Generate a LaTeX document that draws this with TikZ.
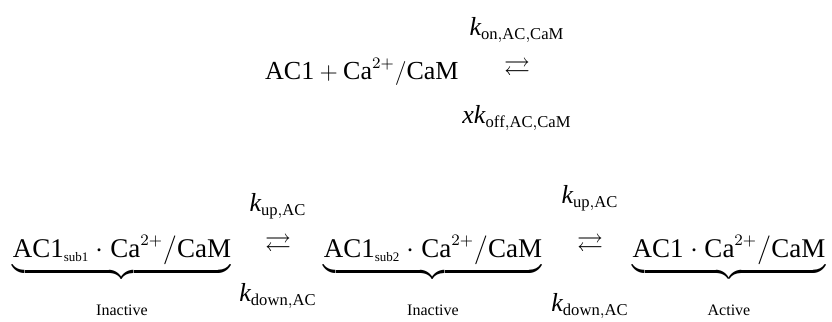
\documentclass[tikz,border=0pt]{standalone}
\usepackage{amsmath,amssymb}
\usepackage{fontspec}
\setmainfont{Liberation Serif}
\DeclareMathSizes{13}{13}{8.3}{6.3}
\DeclareMathSizes{13.5}{13.5}{8.5}{6.5}
\usetikzlibrary{positioning}

\begin{document}
\begin{tikzpicture}[
    x=0.5pt, y=-0.5pt, % pixel-like units
    species/.style={inner sep=0pt, font=\fontsize{13}{16}\selectfont}, % Style for the reactants
    complex/.style={inner sep=0pt, font=\fontsize{13.5}{16}\selectfont}, % Style for the bound forms
    rate/.style={inner sep=0pt, font=\fontsize{13}{16}\selectfont}, % Style for the rate constants
    state/.style={inner sep=0pt, font=\fontsize{8}{10}\selectfont} % Style for the state labels
]
    \useasboundingbox (0,0) rectangle (832,322);

    % Binding step
    \node[species, anchor=east] (free) at (459,72) {$\mathrm{AC1} + \mathrm{Ca}^{2+}/\mathrm{CaM}$};
    \node[species] (bind) at (517,69) {$\rightleftarrows$};
    \node[rate] (kon) at (517,30) {$\mathit{k}_{\mathrm{on,AC,CaM}}$};
    \node[rate] (koff) at (517,118) {$\mathit{xk}_{\mathrm{off,AC,CaM}}$};

    % Activation steps
    \node[complex, anchor=base] (sub1) at (122,257) {$\underbrace{\mathrm{AC1}_{\scriptscriptstyle\mathrm{sub1}}\cdot\mathrm{Ca}^{2+}/\mathrm{CaM}}$};
    \node[complex, anchor=base] (sub2) at (433,257) {$\underbrace{\mathrm{AC1}_{\scriptscriptstyle\mathrm{sub2}}\cdot\mathrm{Ca}^{2+}/\mathrm{CaM}}$};
    \node[complex, anchor=base] (act) at (729,257) {$\underbrace{\mathrm{AC1}\cdot\mathrm{Ca}^{2+}/\mathrm{CaM}}$};

    \node[species] (up1) at (278,245) {$\rightleftarrows$};
    \node[species] (up2) at (590,245) {$\rightleftarrows$};

    \node[rate] (kup1) at (278,206) {$\mathit{k}_{\mathrm{up,AC}}$};
    \node[rate] (kdown1) at (278,296) {$\mathit{k}_{\mathrm{down,AC}}$};
    \node[rate] (kup2) at (590,198) {$\mathit{k}_{\mathrm{up,AC}}$};
    \node[rate] (kdown2) at (590,306) {$\mathit{k}_{\mathrm{down,AC}}$};

    % State labels
    \node[state] (lab1) at (122,310) {Inactive};
    \node[state] (lab2) at (433,310) {Inactive};
    \node[state] (lab3) at (729,310) {Active};
\end{tikzpicture}
\end{document}
